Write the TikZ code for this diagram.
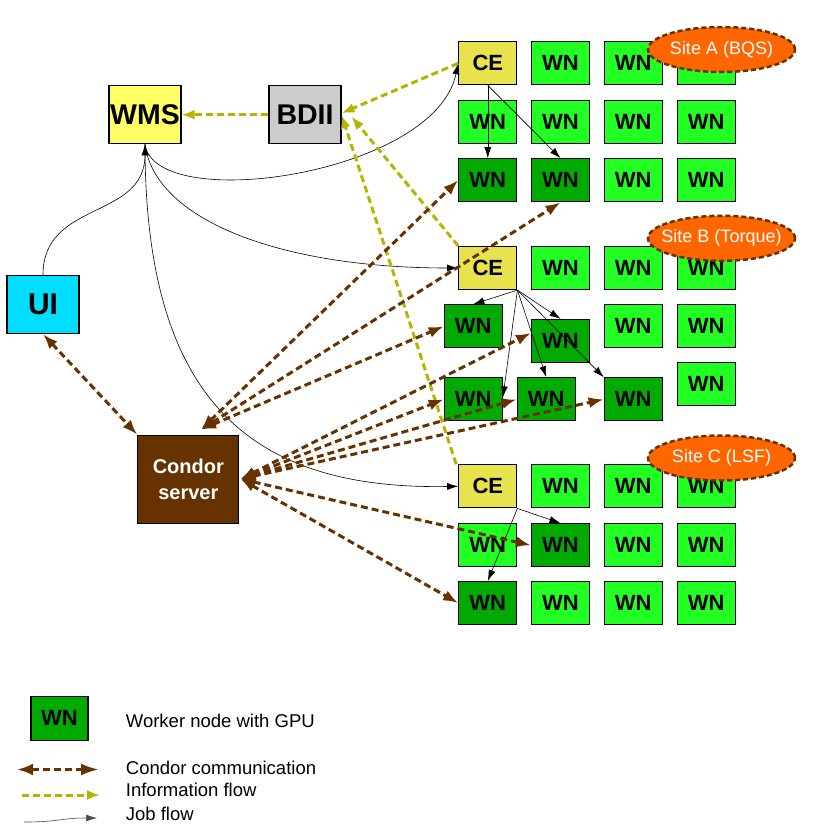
\documentclass[tikz,border=0pt]{standalone}
\usepackage{fontspec}
\setmainfont{Liberation Sans}
\usetikzlibrary{arrows.meta,shapes.geometric,calc}
\definecolor{lgreen}{RGB}{34,255,34}
\definecolor{dgreen}{RGB}{0,170,0}
\definecolor{cefill}{RGB}{232,226,76}
\definecolor{wmsfill}{RGB}{255,255,102}
\definecolor{bdiifill}{RGB}{204,204,204}
\definecolor{uifill}{RGB}{0,221,255}
\definecolor{brownc}{RGB}{102,51,0}
\definecolor{olivec}{RGB}{181,181,0}
\definecolor{orangec}{RGB}{255,102,0}
\begin{document}
\begin{tikzpicture}[x=1pt,y=-1pt,
  box/.style={draw=black,line width=1.2pt,rectangle,inner sep=0pt,font=\bfseries\fontsize{22}{22}\selectfont},
  wn/.style={box,fill=lgreen,minimum width=58pt,minimum height=43pt},
  wng/.style={box,fill=dgreen,minimum width=58pt,minimum height=43pt},
  ce/.style={box,fill=cefill,minimum width=58pt,minimum height=43pt},
  big/.style={box,minimum width=72pt,minimum height=58pt,font=\bfseries\fontsize{28.5}{28.5}\selectfont},
  site/.style={ellipse,fill=orangec,draw=brownc,line width=2.5pt,dash pattern=on 5pt off 3pt,
    minimum width=147pt,minimum height=45pt,inner sep=0pt,text=white,font=\fontsize{18}{18}\selectfont},
  condor/.style={draw=brownc,line width=3pt,dash pattern=on 7pt off 4pt,
    {Latex[length=15pt,width=11pt]}-{Latex[length=15pt,width=11pt]}},
  info/.style={draw=olivec,line width=3pt,dash pattern=on 7pt off 4pt,-{Latex[length=13pt,width=10pt]}},
  job/.style={draw=black,line width=0.6pt,-{Latex[length=11pt,width=7pt]}},
  legtext/.style={anchor=base west,inner sep=0pt,font=\fontsize{18.5}{18.5}\selectfont}
]
\useasboundingbox[fill=white] (0,0) rectangle (816,830);

% left nodes
\node[big,fill=wmsfill] (wms) at (145,114.7) {WMS};
\node[big,fill=bdiifill] (bdii) at (305,114.7) {BDII};
\node[big,fill=uifill,font=\bfseries\fontsize{30}{30}\selectfont] (ui) at (43,304.5) {UI};
\node[box,fill=brownc,text=white,minimum width=101pt,minimum height=88pt,align=center,
  font=\bfseries\fontsize{20}{26}\selectfont] (condor) at (188.3,479.2) {Condor\\server};

% Site A
\node[ce]  (ceA)  at (487.8,63.3) {CE};
\node[wn]  (wnA12) at (560.5,63.3) {WN};
\node[wn]  (wnA13) at (633.3,63.3) {WN};
\node[wn]  (wnA14) at (706.3,63.3) {WN};
\node[wn]  (wnA21) at (487.8,122.3) {WN};
\node[wn]  (wnA22) at (560.5,122.3) {WN};
\node[wn]  (wnA23) at (633.3,122.3) {WN};
\node[wn]  (wnA24) at (706.3,122.3) {WN};
\node[wng] (wnA31) at (487.8,180.3) {WN};
\node[wng] (wnA32) at (560.5,180.3) {WN};
\node[wn]  (wnA33) at (633.3,180.3) {WN};
\node[wn]  (wnA34) at (706.3,180.3) {WN};

% Site B
\node[ce]  (ceB)  at (487.8,268) {CE};
\node[wn]  (wnB12) at (560.5,268) {WN};
\node[wn]  (wnB13) at (633.3,268) {WN};
\node[wn]  (wnB14) at (706.3,268) {WN};
\node[wng] (wnB21) at (473.3,326.3) {WN};
\node[wng] (wnB22) at (560.5,341) {WN};
\node[wn]  (wnB23) at (633.3,326.3) {WN};
\node[wn]  (wnB24) at (706.3,326.3) {WN};
\node[wng] (wnB31) at (473.3,399.3) {WN};
\node[wng] (wnB32) at (546.3,399.3) {WN};
\node[wng] (wnB33) at (633.3,399.3) {WN};
\node[wn]  (wnB34) at (706.3,384.3) {WN};

% Site C
\node[ce]  (ceC)  at (487.8,486.3) {CE};
\node[wn]  (wnC12) at (560.5,486.3) {WN};
\node[wn]  (wnC13) at (633.3,486.3) {WN};
\node[wn]  (wnC14) at (706.3,486.3) {WN};
\node[wn]  (wnC21) at (487.8,545.3) {WN};
\node[wng] (wnC22) at (560.5,545.3) {WN};
\node[wn]  (wnC23) at (633.3,545.3) {WN};
\node[wn]  (wnC24) at (706.3,545.3) {WN};
\node[wng] (wnC31) at (487.8,603) {WN};
\node[wn]  (wnC32) at (560.5,603) {WN};
\node[wn]  (wnC33) at (633.3,603) {WN};
\node[wn]  (wnC34) at (706.3,603) {WN};

% site labels
\node[site] (siteA) at (721.5,49.5) {\makebox[0pt]{Site A (BQS)}};
\node[site] (siteB) at (721.5,238.3) {\makebox[0pt]{Site B (Torque)}};
\node[site] (siteC) at (721.5,458) {\makebox[0pt]{Site C (LSF)}};

% job flow
\draw[job] (ui.north) .. controls (43,200) and (145,220) .. (wms.south);
\draw[job] (wms.south) .. controls (155,215) and (435,175) .. (ceA.west);
\draw[job] (wms.south) .. controls (155,220) and (280,268) .. (ceB.west);
\draw[job] (wms.south) .. controls (145,400) and (250,490) .. (ceC.west);
\draw[job] (ceA.south) -- (wnA31.north);
\draw[job] (ceA.south) -- (wnA32.north);
\draw[job] (ceB.south east) -- (wnB21.north);
\draw[job] (ceB.south east) -- (wnB22.north);
\draw[job] (ceB.south east) -- ([yshift=2pt]wnB31.east);
\draw[job] (ceB.south east) -- (wnB32.north);
\draw[job] (ceB.south east) -- (wnB33.north west);
\draw[job] (ceC.south east) -- (wnC22.north);
\draw[job] (ceC.south east) -- (wnC31.north);

% information flow
\draw[info] (bdii.west) -- (wms.east);
\draw[info] (ceA.west) -- ([yshift=1.5pt]bdii.east);
\draw[info] (ceB.north west) -- ([xshift=10pt,yshift=-2pt]bdii.east);
\draw[info] ([xshift=-2pt]ceC.north west) -- ([yshift=-0.5pt]bdii.east);

% condor communication
\coordinate (cT) at (201,429.5);
\coordinate (cE) at (240.5,479);
\draw[condor] (ui.south) -- (condor.north west);
\draw[condor] (cT) -- (wnA31.west);
\draw[condor] (cT) -- (wnA32.south);
\draw[condor] (cT) -- (wnB21.west);
\draw[condor] (cE) -- ([yshift=8pt]wnB22.west);
\draw[condor] (cE) -- (wnB31.west);
\draw[condor] (cE) -- (wnB32.west);
\draw[condor] (cE) -- (wnB33.west);
\draw[condor] (cE) -- (wnC22.west);
\draw[condor] (cE) -- (wnC31.west);

% legend
\node[wng,minimum width=57pt,minimum height=44pt] (legwn) at (59.5,718.3) {WN};
\node[legtext] (t1) at (125.7,727.3) {Worker node with GPU};
\coordinate (l1a) at (17,769.5);
\coordinate (l1b) at (99,769.5);
\node[legtext] (t2) at (125.7,774) {Condor communication};
\coordinate (l2a) at (22,795);
\coordinate (l2b) at (100,795);
\node[legtext] (t3) at (125.7,796.7) {Information flow};
\coordinate (l3a) at (24,822);
\coordinate (l3b) at (97,818);
\node[legtext] (t4) at (125.7,820) {Job flow};
\draw[condor,{Latex[length=16pt,width=12pt]}-{Latex[length=18pt,width=12pt]}] (l1a) -- (l1b);
\draw[info] (l2a) -- (l2b);
\draw[job,draw=black!70] (l3a) .. controls (60,822) and (60,818) .. (l3b);
\end{tikzpicture}
\end{document}
